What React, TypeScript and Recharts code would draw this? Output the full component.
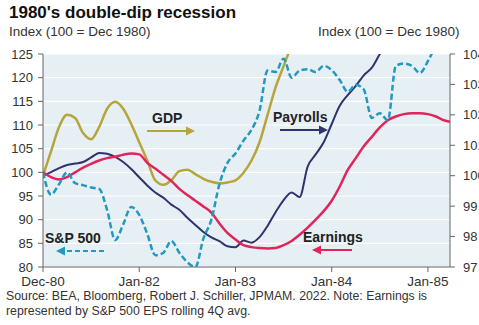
import React from 'react';
import { LineChart, Line, XAxis, YAxis, CartesianGrid } from 'recharts';

// month index 0 = Dec-80
const xTickPos = [0, 12, 24, 36, 48];
const xTickLabels = ['Dec-80', 'Jan-82', 'Jan-83', 'Jan-84', 'Jan-85'];
const leftTicks = [80, 85, 90, 95, 100, 105, 110, 115, 120, 125];
const rightTicks = [97, 98, 99, 100, 101, 102, 103, 104];

// left axis
const sp500 = [
  100, 95.3, 97.5, 100, 97.7, 97.3, 96.8, 96.5, 92, 85.7,
  89, 92.7, 91, 87, 82.5, 83, 85.5, 83, 81, 80,
  86, 90, 97.5, 102, 104, 106.7, 109, 113, 121.5, 121.2,
  124, 120, 121.5, 121.8, 121.2, 122.5, 121.6, 119.5, 117, 118.5,
  117.5, 111.5, 112.5, 111, 122.5, 123, 122.5, 121, 123.5, 127,
];
const earnings = [
  100, 99, 98.5, 99, 100, 101, 101.8, 102.5, 103, 103.3,
  103.7, 104, 103.8, 102, 100.8, 99.5, 98.2, 96.5, 95.2, 94,
  92.8, 91.5, 89.2, 87.2, 85.8, 84.6, 84.2, 84, 83.9, 84,
  84.6, 85.5, 86.8, 88.3, 90, 91.8, 94, 97, 100.5, 103,
  105.5, 107.5, 109.5, 111, 111.8, 112.3, 112.5, 112.5, 112.3, 111.8,
  111, 110.6,
];
// right axis
const payrolls = [
  100, 100.12, 100.25, 100.35, 100.4, 100.45, 100.6, 100.75, 100.72, 100.62,
  100.45, 100.22, 99.95, 99.68, 99.45, 99.28, 99.05, 98.88, 98.62, 98.38,
  98.15, 97.97, 97.85, 97.68, 97.65, 97.87, 97.8, 97.98, 98.35, 98.8,
  99.2, 99.45, 99.3, 100.3, 100.7, 101.1, 101.7, 102.3, 102.65, 102.95,
  103.3, 103.55, 104.0, 104.4,
];
const gdp = [
  100, 100.8, 101.6, 102.0, 101.9, 101.4, 101.2, 101.6, 102.2, 102.43,
  102.2, 101.7, 101.1, 100.5, 99.85, 99.7, 99.85, 100.15, 100.2, 100.05,
  99.9, 99.8, 99.75, 99.78, 99.85, 100.1, 100.5, 101.1, 102.0, 102.9,
  103.6, 104.3,
];

const rows = earnings.map((_, i) => ({
  m: i,
  sp500: sp500[i],
  earnings: earnings[i],
  payrolls: payrolls[i],
  gdp: gdp[i],
}));

const font = '"Liberation Sans", Arial, sans-serif';
const txt = '#333';
const axisCol = '#666';
const colors = {
  sp500: '#2399c2',
  earnings: '#e2245c',
  payrolls: '#2f336f',
  gdp: '#b7a43b',
};

const tickStyle = { fontSize: 13, fill: txt, fontFamily: font };

export default function App() {
  return (
    <div style={{ position: 'absolute', top: 0, left: 0, width: 479, height: 325, background: '#fff', overflow: 'hidden', fontFamily: font }}>
      <div style={{ position: 'absolute', left: 9, top: 3, fontSize: 17, fontWeight: 'bold', color: '#111', whiteSpace: 'nowrap' }}>
        1980's double-dip recession
      </div>
      <div style={{ position: 'absolute', left: 9, top: 24, fontSize: 13.5, color: txt }}>
        Index (100 = Dec 1980)
      </div>
      <div style={{ position: 'absolute', left: 318, top: 24, fontSize: 13.5, color: txt, whiteSpace: 'nowrap' }}>
        Index (100 = Dec 1980)
      </div>

      <div style={{ position: 'absolute', left: 0, top: 0 }}>
        <LineChart width={479} height={325} data={rows} margin={{ top: 54, right: 0, bottom: 28, left: 0 }}>
          <CartesianGrid
            yAxisId="left"
            vertical={false}
            stroke="#ffffff"
            strokeWidth={1.2}
            fill="#e5eff4"
            fillOpacity={1}
          />
          <XAxis
            dataKey="m"
            type="number"
            domain={[0, 50.75]}
            allowDataOverflow
            ticks={xTickPos}
            tickFormatter={(v: number) => xTickLabels[xTickPos.indexOf(v)]}
            tick={{ ...tickStyle, fontSize: 13.5 }}
            tickSize={5}
            tickMargin={4}
            height={30}
            stroke={axisCol}
          />
          <YAxis
            yAxisId="left"
            domain={[80, 125]}
            ticks={leftTicks}
            allowDataOverflow
            tick={tickStyle}
            tickSize={5}
            tickMargin={5}
            width={43}
            stroke={axisCol}
          />
          <YAxis
            yAxisId="right"
            orientation="right"
            domain={[97, 104]}
            ticks={rightTicks}
            allowDataOverflow
            tick={{ ...tickStyle, textAnchor: 'start' }}
            tickSize={5}
            tickMargin={8}
            width={29}
            stroke={axisCol}
          />
          <Line yAxisId="right" type="monotone" dataKey="gdp" stroke={colors.gdp} strokeWidth={2.5} dot={false} isAnimationActive={false} />
          <Line yAxisId="right" type="monotone" dataKey="payrolls" stroke={colors.payrolls} strokeWidth={2} dot={false} isAnimationActive={false} />
          <Line yAxisId="left" type="monotone" dataKey="earnings" stroke={colors.earnings} strokeWidth={2.5} dot={false} isAnimationActive={false} />
          <Line yAxisId="left" type="monotone" dataKey="sp500" stroke={colors.sp500} strokeWidth={2.5} strokeDasharray="6 3" dot={false} isAnimationActive={false} />
        </LineChart>
      </div>

      {/* series labels with arrows */}
      <svg width={479} height={325} style={{ position: 'absolute', left: 0, top: 0, pointerEvents: 'none' }}>
        <g fontFamily={font} fontWeight="bold" fontSize={14} fill="#222">
          <text x={152} y={123}>GDP</text>
          <text x={273} y={122}>Payrolls</text>
          <text x={303} y={242}>Earnings</text>
          <text x={45} y={243}>S&amp;P 500</text>
        </g>
        <line x1={147} y1={131} x2={188} y2={131} stroke={colors.gdp} strokeWidth={2} />
        <polygon points="195,131 186,126.5 186,135.5" fill={colors.gdp} />
        <line x1={280} y1={130} x2={320} y2={130} stroke={colors.payrolls} strokeWidth={2} />
        <polygon points="328,130 319,125.5 319,134.5" fill={colors.payrolls} />
        <line x1={352} y1={250} x2={320} y2={250} stroke={colors.earnings} strokeWidth={2} />
        <polygon points="312,250 321,245.5 321,254.5" fill={colors.earnings} />
        <line x1={104} y1={251} x2={64} y2={251} stroke={colors.sp500} strokeWidth={2} strokeDasharray="5 3" />
        <polygon points="56,251 65,246.5 65,255.5" fill={colors.sp500} />
      </svg>

      <div style={{ position: 'absolute', left: 6, top: 289, fontSize: 12.3, lineHeight: '15px', color: txt, whiteSpace: 'nowrap' }}>
        Source: BEA, Bloomberg, Robert J. Schiller, JPMAM. 2022. Note: Earnings is
        <br />
        represented by S&amp;P 500 EPS rolling 4Q avg.
      </div>
    </div>
  );
}
